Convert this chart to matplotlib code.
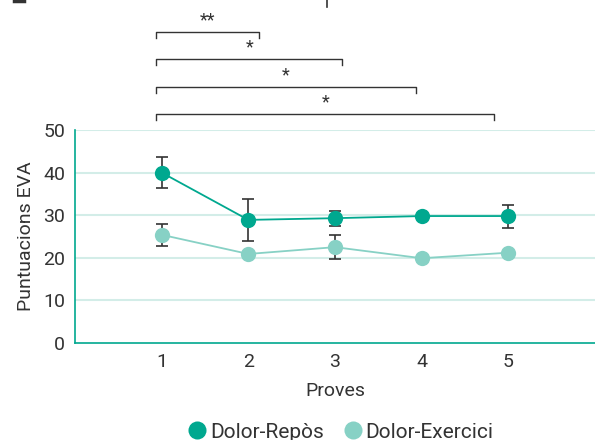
import matplotlib
matplotlib.use("Agg")
import matplotlib.pyplot as plt
from matplotlib.lines import Line2D

plt.rcParams['font.family'] = ['Roboto', 'DejaVu Sans']

proves = [1, 2, 3, 4, 5]
repos = [40.0, 28.9, 29.3, 29.8, 29.8]
repos_err = [3.6, 5.0, 1.8, 0.0, 2.7]
exercici = [25.4, 20.9, 22.5, 19.9, 21.2]
exercici_err = [2.6, 0.0, 2.8, 0.0, 0.0]

# significance brackets: (start, end, height, label)
br_start = [0.94, 0.94, 0.94, 0.94]
br_end = [2.12, 3.08, 3.93, 4.84]
br_y = [73.0, 66.7, 60.1, 53.8]
br_label = ['**', '*', '*', '*']

yticks = [0, 10, 20, 30, 40, 50]
xticks = [1, 2, 3, 4, 5]

dark = '#00a88f'
light = '#87d1c5'
grid = '#d3ede8'
txt = '#333333'
fs = 14

fig = plt.figure(figsize=(5.95, 4.4), dpi=100)
ax = fig.add_axes([75/595, 1 - 343/440, 1 - 75/595, 213/440])
ax.set_xlim(0, 6)
ax.set_ylim(0, 50)

for y in yticks[1:]:
    ax.axhline(y, color=grid, lw=1.5, zorder=0)

ax.plot(proves, exercici, color=light, lw=1.3, zorder=2)
ax.plot(proves, repos, color=dark, lw=1.3, zorder=2)
ax.errorbar(proves, exercici, yerr=exercici_err, fmt='none', ecolor='#333333',
            elinewidth=1.2, capsize=4, capthick=1.2, zorder=3)
ax.errorbar(proves, repos, yerr=repos_err, fmt='none', ecolor='#333333',
            elinewidth=1.2, capsize=4, capthick=1.2, zorder=3)
ax.plot(proves, exercici, 'o', color=light, ms=11, zorder=4, mew=0)
ax.plot(proves, repos, 'o', color=dark, ms=11, zorder=4, mew=0)

for s in ['top', 'right']:
    ax.spines[s].set_visible(False)
for s in ['left', 'bottom']:
    ax.spines[s].set_color(dark)
    ax.spines[s].set_linewidth(1.2)

ax.set_xticks(xticks)
ax.set_yticks(yticks)
ax.tick_params(length=0, labelsize=fs, colors=txt, pad=7)
ax.set_xlabel('Proves', fontsize=fs, color=txt, labelpad=8)
ax.set_ylabel('Puntuacions EVA', fontsize=fs, color=txt, labelpad=6)

for x0, x1, y, lab in zip(br_start, br_end, br_y, br_label):
    ax.plot([x0, x0, x1, x1], [y - 1.5, y, y, y - 1.5], color='#333333',
            lw=1.0, clip_on=False)
    ax.text((x0 + x1) / 2, y + 0.6, lab, ha='center', va='bottom',
            fontsize=13, color=txt, clip_on=False)

handles = [Line2D([], [], marker='o', ls='none', color=dark, ms=13, mew=0),
           Line2D([], [], marker='o', ls='none', color=light, ms=13, mew=0)]
fig.legend(handles, ['Dolor-Repòs', 'Dolor-Exercici'], loc='center',
           bbox_to_anchor=(337/595, 1 - 432/440), ncol=2, frameon=False,
           fontsize=15, handletextpad=-0.2, columnspacing=0.6,
           handlelength=1.6, labelcolor=txt, borderpad=0)

# cropped fragments at top edge
fig.add_artist(Line2D([327/595, 327/595], [1, 1 - 7/440], color='#333333', lw=1.2))
fig.add_artist(Line2D([14/595, 24/595], [1 - 1/440, 1 - 1/440], color='#333333', lw=2.5))

fig.savefig('out.png', dpi=100)
